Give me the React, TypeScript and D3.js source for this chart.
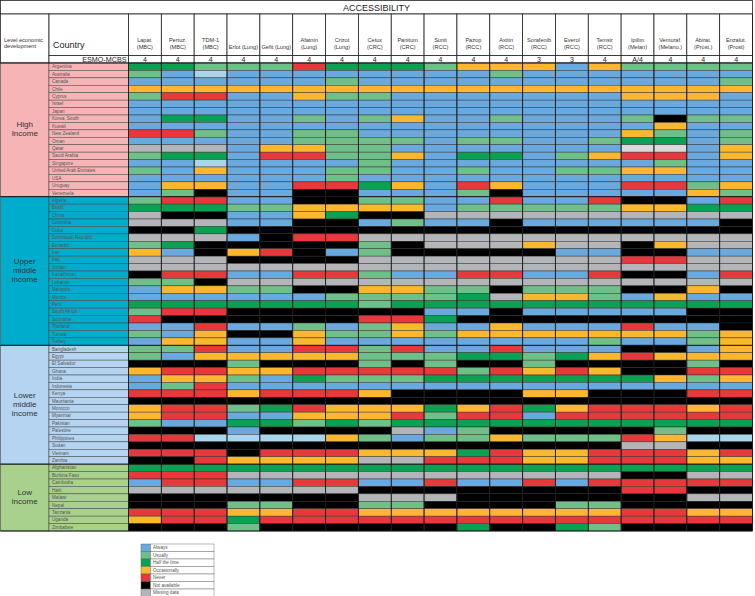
import React from "react";
import * as d3 from "d3";

// drugs (header labels) and ESMO-MCBS scores
const drugs = [
  "Lapat.|(MBC)", "Pertuz.|(MBC)", "TDM-1|(MBC)", "Erlot (Lung)", "Gefit (Lung)",
  "Afatnin|(Lung)", "Crizot|(Lung)", "Cetux|(CRC)", "Panitum|(CRC)", "Sunit|(RCC)",
  "Pazop|(RCC)", "Axitin|(RCC)", "Sorafenib|(RCC)", "Everol|(RCC)", "Temsir|(RCC)",
  "Ipilim|(Melan)", "Vemuraf.|(Melano.)", "Abirat.|(Prost.)", "Enzalut.|(Prost)",
];
const esmo = ["4", "4", "4", "4", "4", "4", "4", "4", "4", "4", "4", "4", "3", "3", "4", "A/4", "4", "4", "4"];

const groups = ["High|Income", "Upper|middle|income", "Lower|middle|income", "Low|income"];

const highCountries = [
  "Argentina", "Australia", "Canada", "Chile", "Cyprus", "Israel", "Japan", "Korea, South", "Kuwait",
  "New Zealand", "Oman", "Qatar", "Saudi Arabia", "Singapore", "United Arab Emirates", "USA", "Uruguay", "Venezuela",
];
const upperCountries = [
  "Algeria", "Brazil", "China", "Colombia", "Cuba", "Dominican Republic", "Ecuador", "Iran", "Iraq", "Jordan",
  "Kazakhstan", "Lebanon", "Malaysia", "Mexico", "Peru", "South Africa", "Suriname", "Thailand", "Tunisia", "Turkey",
];
const lowerCountries = [
  "Bangladesh", "Egypt", "El Salvador", "Ghana", "India", "Indonesia", "Kenya", "Mauritania", "Morocco",
  "Myanmar", "Pakistan", "Palestine", "Philippines", "Sudan", "Vietnam", "Zambia",
];
const lowCountries = ["Afghanistan", "Burkina Faso", "Cambodia", "Haiti", "Malawi", "Nepal", "Tanzania", "Uganda", "Zimbabwe"];

// one letter per drug: A always, U usually, H half the time, O occasionally,
// N never, X not available, M missing data, L light blue, G light grey
const highValues = [
  "HHUUUNHHHUOOOAOUUUU",
  "UALAAAAAAAAUAAAAAAA",
  "AAAAAAUAAAAAAAAAAAU",
  "OOOOOOOOOOOOOOOOOOO",
  "UNNAAOUUAAAAAAAOOOA",
  "AAAAAAAAAAAAAAAAAAA",
  "AAAAAAAAAAAAAAAAAAA",
  "AHHAAUAUOAAUAAAUXUU",
  "AAAAAAAAAAAAAAAAOAA",
  "NNUAAUUAAAAAAAAOUAU",
  "AAAAAUUUUAUUAAUHHAU",
  "MMMAOOUUAAAAAAAGGAO",
  "UHHANNUUOAHHAUONNAO",
  "AALAAAAUAAAAAAAAUAA",
  "UAOAAAUUAAUAAUUOOAA",
  "AAAAAAUAAAAAAAAAAAA",
  "AOOAANNHOANOAAANNUO",
  "AUXAAXXAAAUXAAAAAOU",
];
const upperValues = [
  "UNNAAXXUUAANAANXXAN",
  "HHHUUOOOOAUUUUUOOHH",
  "MXXAAOHXXMMMMMMMMMM",
  "MMMAAXXAUAAXAAAAAAX",
  "XXHXXXXXXXXXXXXXXXX",
  "MMMAXNNMMMMMMMMMMMM",
  "UHXXXXXUXMMMOMMXOMM",
  "OAXONXAUXXXXXAAXXAA",
  "MMMXXXXMMMMMMMMNNMM",
  "MMMMMMMMMMMMMMMMMMM",
  "XNNAANNUAANNAANXXAN",
  "UUXMMMMMMMMMMMMMMMM",
  "AOOUUXXOOUUXUUUXXOX",
  "AAAAAAUUUUHMOOUAOAA",
  "HHHHHHHUHHHHHHHHHHH",
  "UNNXXXXXXAAXAAAAAXX",
  "NXXXXXXNNHXXXXXXXXX",
  "AANAAUAUOAAOAAANAAX",
  "UAOXXOUUOUOOOOOOOUO",
  "AOOAAOAAAAAAAAUAAUO",
];
const lowerValues = [
  "UUNAANNUNAANAAAXXAO",
  "UAOOOOOUUUHHUHONOOO",
  "XXXUXXXUXUXXUXXXXUX",
  "ONNOONNNNNUNONOXXNN",
  "AOOUAHUUUHHHHHHHOUO",
  "AUNAAAAAAAAAAAAAAAA",
  "NNNONNNOXXXXOOXXXNN",
  "XXXXXXXXXXXXXXXXXXX",
  "ONNUHNOOOHONHONNNON",
  "ONNAAOOONUNNANNNNNN",
  "UAAHHUHUHHHHHHHHHHH",
  "XXXAXXXXMAUXXXXXUXX",
  "NNLLLLOUAUUOUUUNOLL",
  "XXXXXXXXXXXXXXXMMXX",
  "NNNXNNNOOOHNOONNNON",
  "XXNOOOOMMNNNOONNNOO",
];
const lowValues = [
  "HHHHHHHHHHHHHHHHHHH",
  "NNNMMMMMMMMMMMMXXMM",
  "ANNAANNAANAANANNNNN",
  "MMMMMMMXXXXXXXXNNXX",
  "XXXXXXXMMMXXXXXXXMM",
  "XXXUUXXUUXXXXUUXXXX",
  "NNNOONNOOOOOOOONNOO",
  "ONNHNNNNNNNNNNNNNNN",
  "XXXUXXXXXXHXXHUXXXX",
];

const legendCodes = ["A", "U", "H", "O", "N", "X", "M"];
const legendLabels = ["Always", "Usually", "Half the time", "Occasionally", "Never", "Not available", "Missing data"];

const codeColor: Record<string, string> = {
  A: "#6aa9de", U: "#6fbf88", H: "#0aa152", O: "#fbb82f", N: "#e7383b",
  X: "#000000", M: "#b3b5b8", L: "#a9d5ea", G: "#d9d9d9",
};
const groupColor = ["#f6b4b7", "#00accb", "#b4d4f1", "#a9d18e"];

const FONT = "'Liberation Sans', Arial, Helvetica, sans-serif";

export default function App() {
  const countryLists = [highCountries, upperCountries, lowerCountries, lowCountries];
  const valueLists = [highValues, upperValues, lowerValues, lowValues];
  const allCountries = countryLists.flat();
  const allValues = valueLists.flat();

  const width = 755, height = 596;
  const left = 128.5, right = 752.5;
  const top = 63, bottom = 531;
  const groupX = 0.5, countryX = 49;

  const x = d3.scaleBand().domain(drugs).range([left, right]);
  const y = d3.scaleBand().domain(allCountries).range([top, bottom]);
  const bw = x.bandwidth(), bh = y.bandwidth();

  const legendY = d3.scaleBand().domain(legendCodes).range([544, 596.5]);

  const groupSpans = countryLists.map((list) => {
    const y0 = y(list[0]) as number;
    const y1 = (y(list[list.length - 1]) as number) + bh;
    return [y0, y1];
  });

  return (
    <svg width={width} height={height} style={{ position: "absolute", left: 0, top: 0, background: "#fff" }} fontFamily={FONT}>
      {/* title row */}
      <rect x={0.5} y={0.5} width={right - 0.5} height={13.5} fill="#fff" stroke="#222" strokeWidth={0.8} />
      <text x={(right + 0.5) / 2} y={10.5} textAnchor="middle" fontSize={9} fill="#222">ACCESSIBILITY</text>

      {/* header row */}
      <rect x={groupX} y={14} width={countryX - groupX} height={49} fill="#fff" stroke="#222" strokeWidth={0.8} />
      <text x={4} y={42} fontSize={5.6} fill="#333">Level economic</text>
      <text x={4} y={48} fontSize={5.6} fill="#333">development</text>
      <rect x={countryX} y={14} width={left - countryX} height={41.5} fill="#fff" stroke="#222" strokeWidth={0.8} />
      <text x={53} y={48} fontSize={9} fill="#222">Country</text>
      <rect x={countryX} y={55.5} width={left - countryX} height={7.5} fill="#fff" stroke="#222" strokeWidth={0.8} />
      <text x={left - 2} y={61.8} textAnchor="end" fontSize={7.2} fill="#222">ESMO-MCBS</text>

      {drugs.map((d, i) => {
        const lines = d.split("|");
        const cx = (x(d) as number) + bw / 2;
        return (
          <g key={d}>
            <rect x={x(d)} y={14} width={bw} height={41.5} fill="#fff" stroke="#222" strokeWidth={0.8} />
            {lines.map((l, j) => (
              <text key={j} x={cx} y={lines.length === 1 ? 48.5 : 41.5 + j * 7} textAnchor="middle" fontSize={5.6} fill="#333">{l}</text>
            ))}
            <rect x={x(d)} y={55.5} width={bw} height={7.5} fill="#fff" stroke="#222" strokeWidth={0.8} />
            <text x={cx} y={61.8} textAnchor="middle" fontSize={7} fill="#222">{esmo[i]}</text>
          </g>
        );
      })}

      {/* group and country columns */}
      {groups.map((g, gi) => {
        const [y0, y1] = groupSpans[gi];
        const lines = g.split("|");
        const cy = (y0 + y1) / 2 - ((lines.length - 1) * 9) / 2 + 2;
        return (
          <g key={g}>
            <rect x={groupX} y={y0} width={countryX - groupX} height={y1 - y0} fill={groupColor[gi]} stroke="#333" strokeWidth={0.6} />
            {lines.map((l, j) => (
              <text key={j} x={(groupX + countryX) / 2} y={cy + j * 9} textAnchor="middle" fontSize={8} fill="#333">{l}</text>
            ))}
            {countryLists[gi].map((c) => (
              <g key={c}>
                <rect x={countryX} y={y(c)} width={left - countryX} height={bh} fill={groupColor[gi]} stroke="#444" strokeWidth={0.5} />
                <text x={countryX + 3} y={(y(c) as number) + bh / 2 + 1.6} fontSize={4.6} fill="#555">{c}</text>
              </g>
            ))}
          </g>
        );
      })}

      {/* cells */}
      {allCountries.map((c, ri) =>
        drugs.map((d, ci) => (
          <rect
            key={c + d}
            x={x(d)}
            y={y(c)}
            width={bw}
            height={bh}
            fill={codeColor[allValues[ri][ci]]}
            stroke="#2b2b2b"
            strokeWidth={0.45}
          />
        ))
      )}

      {/* column dividers */}
      {drugs.map((d) => (
        <line key={"v" + d} x1={x(d)} x2={x(d)} y1={top} y2={bottom} stroke="#1a1a1a" strokeWidth={0.9} />
      ))}
      <line x1={right} x2={right} y1={14} y2={bottom} stroke="#1a1a1a" strokeWidth={0.9} />
      {groupSpans.map(([y0], gi) => (
        <line key={"h" + gi} x1={groupX} x2={right} y1={y0} y2={y0} stroke="#111" strokeWidth={0.9} />
      ))}
      <line x1={groupX} x2={right} y1={bottom} y2={bottom} stroke="#111" strokeWidth={0.9} />

      {/* legend */}
      {legendCodes.map((k, i) => (
        <g key={k}>
          <rect x={141} y={legendY(k)} width={9.5} height={legendY.bandwidth()} fill={codeColor[k]} stroke="#555" strokeWidth={0.4} />
          <rect x={150.5} y={legendY(k)} width={63.5} height={legendY.bandwidth()} fill="#fff" stroke="#555" strokeWidth={0.4} />
          <text x={153} y={(legendY(k) as number) + legendY.bandwidth() / 2 + 1.6} fontSize={4.6} fill="#555">{legendLabels[i]}</text>
        </g>
      ))}
    </svg>
  );
}
